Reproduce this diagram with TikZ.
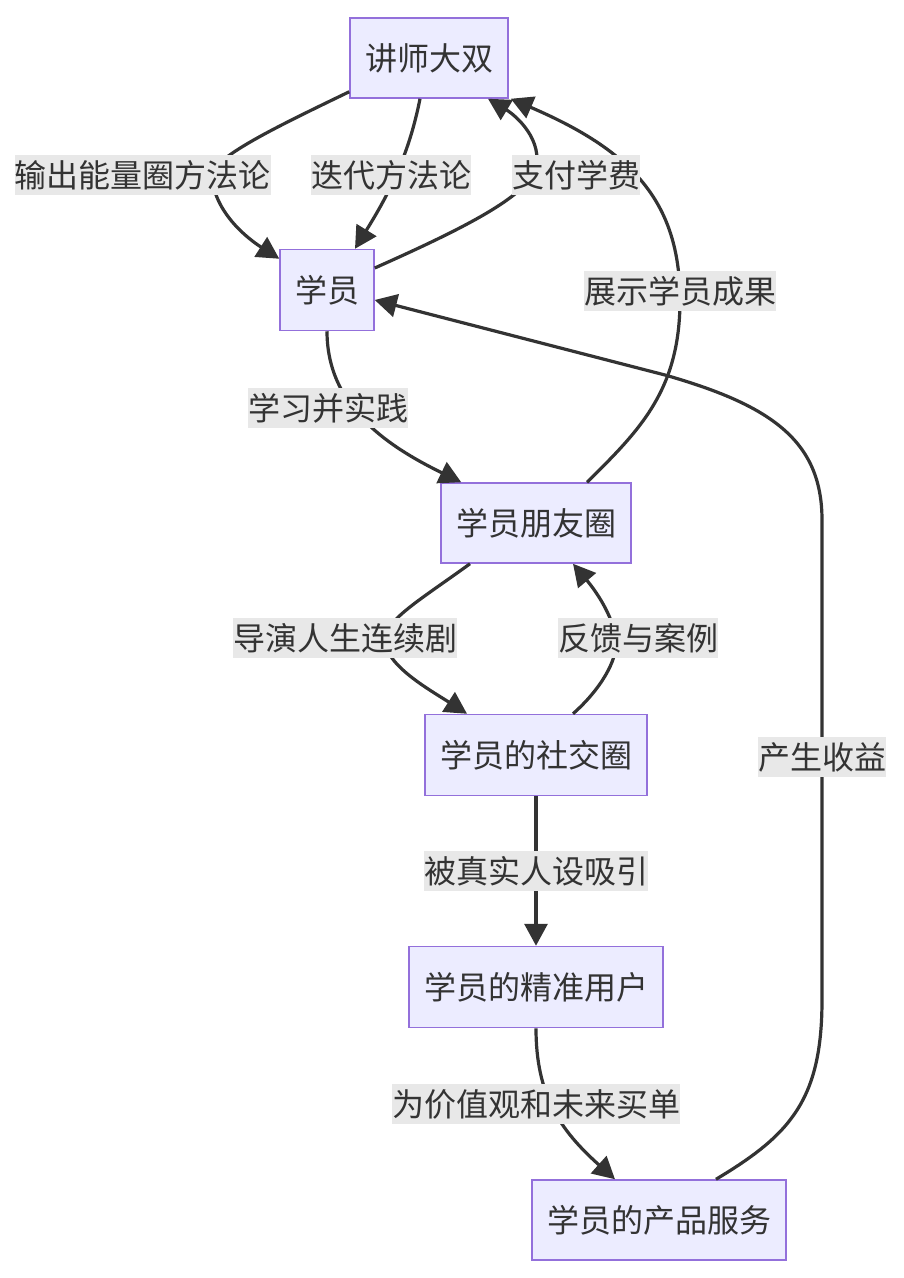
\documentclass[tikz,border=0pt]{standalone}
\usepackage{fontspec}
\setmainfont{Noto Sans CJK SC}
\usepackage{tikz}
\usetikzlibrary{arrows.meta, positioning, calc}
\definecolor{boxfill}{HTML}{ECECFF}
\definecolor{boxline}{HTML}{9370DB}
\definecolor{ink}{HTML}{333333}
\definecolor{lblfill}{HTML}{E8E8E8}

\begin{document}
\begin{tikzpicture}[x=1pt, y=-1pt,
    box/.style={draw=boxline, fill=boxfill, line width=1.5pt, text=ink,
        font=\fontsize{32}{38}\selectfont, inner sep=0pt},
    lbl/.style={fill=lblfill, text=ink, font=\fontsize{32}{38}\selectfont,
        inner xsep=0pt, inner ysep=0pt, minimum height=40pt},
    flow/.style={draw=ink, line width=3.2pt, -{Triangle[length=22pt,width=23pt]}}]
    \useasboundingbox (0,0) rectangle (904,1278);

    % nodes
    \node[box, minimum width=158pt, minimum height=80pt] (tutor) at (429,58) {讲师大双};
    \node[box, minimum width=94pt, minimum height=81pt] (student) at (327,290) {学员};
    \node[box, minimum width=190pt, minimum height=80pt] (friends) at (536,523) {学员朋友圈};
    \node[box, minimum width=222pt, minimum height=81pt] (social) at (536,755) {学员的社交圈};
    \node[box, minimum width=254pt, minimum height=81pt] (users) at (536,987) {学员的精准用户};
    \node[box, minimum width=254pt, minimum height=80pt] (service) at (659,1220) {学员的产品服务};

    % connectors
    \draw[flow] ([yshift=7pt]tutor.south west) .. controls (270,130) and (208,160) .. (212,178)
        .. controls (216,215) and (250,240) .. ([yshift=-10pt]student.north west);
    \draw[flow] ([xshift=-9pt]tutor.south) .. controls (408,160) and (385,200) .. ([xshift=28pt]student.north);
    \draw[flow] ([yshift=22pt]student.east) .. controls (460,230) and (520,200) .. (535,172)
        .. controls (545,140) and (515,115) .. ([xshift=59pt]tutor.south);
    \draw[flow] ([xshift=51pt]friends.north) .. controls (640,430) and (680,390) .. (680,300)
        .. controls (680,200) and (630,150) .. ([xshift=2pt]tutor.south east);
    \draw[flow] (student.south) .. controls (327,405) and (385,445) .. ([xshift=21pt]friends.north west);
    \draw[flow] ([xshift=-66pt]friends.south) .. controls (420,600) and (385,620) .. (385,640)
        .. controls (385,665) and (430,690) .. ([xshift=-69pt]social.north);
    \draw[flow] ([xshift=37pt]social.north) .. controls (600,690) and (618,660) .. (616,640)
        .. controls (613,615) and (595,590) .. ([xshift=37pt]friends.south);
    \draw[flow] (social) -- (users);
    \draw[flow] (users.south) .. controls (536,1095) and (560,1130) .. ([xshift=-44pt]service.north);
    \draw[flow] ([xshift=57pt]service.north) .. controls (790,1135) and (822,1100) .. (822,1000)
        -- (822,520) .. controls (822,440) and (770,405) .. (665,375) -- ([yshift=-10pt]student.east);

    % labels
    \node[lbl] (t1) at (143,175) {输出能量圈方法论};
    \node[lbl] (t2) at (391,175) {迭代方法论};
    \node[lbl] (t3) at (576,175) {支付学费};
    \node[lbl] (t4) at (680,291) {展示学员成果};
    \node[lbl] (t5) at (328,408) {学习并实践};
    \node[lbl] (t6) at (345,638) {导演人生连续剧};
    \node[lbl] (t7) at (638,638) {反馈与案例};
    \node[lbl] (t8) at (536,871) {被真实人设吸引};
    \node[lbl] (t9) at (536,1104) {为价值观和未来买单};
    \node[lbl] (t10) at (822,757) {产生收益};
\end{tikzpicture}
\end{document}
